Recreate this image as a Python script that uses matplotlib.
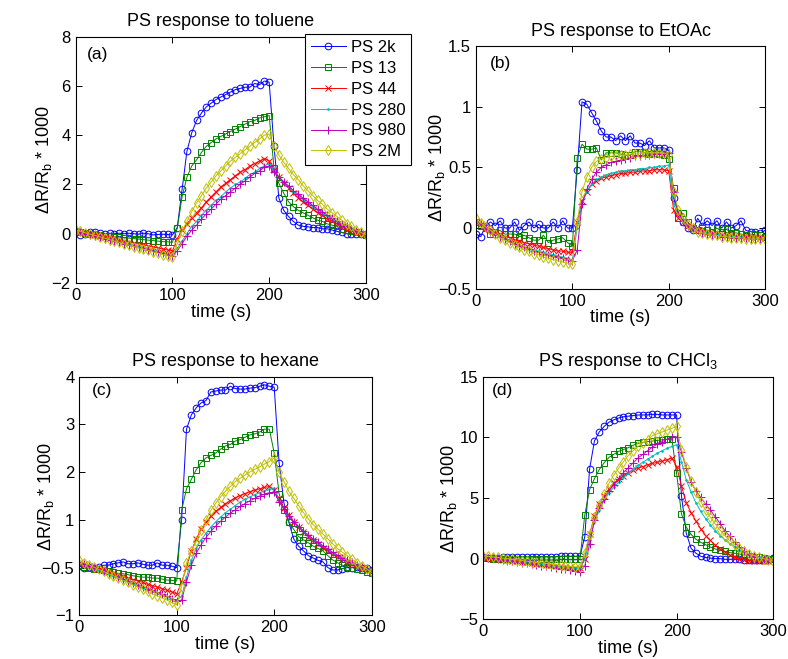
import matplotlib
matplotlib.use('Agg')
import matplotlib.pyplot as plt

plt.rcParams['font.family'] = ['Liberation Sans', 'DejaVu Sans']
plt.rcParams['mathtext.default'] = 'regular'

# ---------------- data ----------------
time_s = list(range(0, 301, 5))
labels = ['PS 2k', 'PS 13', 'PS 44', 'PS 280', 'PS 980', 'PS 2M']

# (a) toluene
tol_2k = [0.10, -0.05, 0.00, 0.05, 0.05, 0.02, 0.00, 0.02, 0.00, 0.02, 0.00, 0.02, 0.00, -0.02, 0.02, 0.00, -0.05, -0.03, -0.02, -0.03, -0.05,
          0.25, 1.80, 3.35, 4.10, 4.60, 4.90, 5.15, 5.30, 5.45, 5.55, 5.65, 5.75, 5.85, 5.90, 5.95, 5.95, 6.10, 6.05, 6.20, 6.15,
          3.55, 1.45, 0.95, 0.70, 0.50, 0.35, 0.30, 0.28, 0.25, 0.25, 0.20, 0.20, 0.15, 0.10, 0.05, 0.00, 0.00, -0.02, 0.00, 0.00]
tol_13 = [0.10, 0.06, 0.03, 0.00, -0.03, -0.05, -0.08, -0.10, -0.12, -0.14, -0.16, -0.18, -0.20, -0.22, -0.24, -0.26, -0.28, -0.30, -0.32, -0.33, -0.35,
          0.22, 1.50, 2.30, 2.75, 3.00, 3.30, 3.55, 3.70, 3.85, 3.95, 4.05, 4.15, 4.25, 4.35, 4.45, 4.55, 4.60, 4.70, 4.75, 4.80,
          2.65, 2.05, 1.65, 1.30, 1.10, 0.95, 0.85, 0.75, 0.65, 0.55, 0.50, 0.40, 0.35, 0.30, 0.20, 0.15, 0.10, 0.05, 0.00, -0.05]
tol_44 = [0.10, 0.06, 0.02, -0.02, -0.06, -0.10, -0.14, -0.18, -0.22, -0.26, -0.30, -0.34, -0.38, -0.42, -0.46, -0.50, -0.54, -0.58, -0.62, -0.66, -0.70,
          -0.20, 0.15, 0.40, 0.65, 0.85, 1.05, 1.30, 1.50, 1.70, 1.90, 2.05, 2.20, 2.35, 2.50, 2.60, 2.75, 2.85, 2.95, 3.05, 2.95,
          2.60, 2.30, 2.05, 1.85, 1.65, 1.45, 1.30, 1.15, 1.00, 0.85, 0.75, 0.60, 0.50, 0.40, 0.30, 0.20, 0.15, 0.05, 0.00, -0.05]
tol_280 = [0.10, 0.05, 0.00, -0.05, -0.10, -0.15, -0.19, -0.24, -0.29, -0.34, -0.38, -0.43, -0.48, -0.52, -0.57, -0.62, -0.67, -0.71, -0.76, -0.80, -0.85,
           -0.60, -0.30, 0.00, 0.30, 0.50, 0.75, 0.95, 1.15, 1.35, 1.50, 1.70, 1.85, 2.00, 2.10, 2.25, 2.40, 2.50, 2.65, 2.75, 2.85,
           2.55, 2.30, 2.10, 1.90, 1.70, 1.55, 1.40, 1.25, 1.10, 0.95, 0.85, 0.70, 0.60, 0.50, 0.40, 0.30, 0.20, 0.10, 0.05, 0.00]
tol_980 = [0.10, 0.05, 0.00, -0.05, -0.10, -0.15, -0.20, -0.25, -0.30, -0.35, -0.40, -0.45, -0.50, -0.55, -0.60, -0.65, -0.70, -0.75, -0.80, -0.85, -0.90,
           -0.70, -0.40, -0.10, 0.15, 0.35, 0.60, 0.80, 1.00, 1.20, 1.40, 1.55, 1.70, 1.85, 2.00, 2.15, 2.30, 2.45, 2.55, 2.70, 2.75,
           2.50, 2.30, 2.10, 1.95, 1.75, 1.60, 1.45, 1.30, 1.15, 1.00, 0.90, 0.75, 0.65, 0.50, 0.40, 0.30, 0.20, 0.10, 0.05, -0.05]
tol_2M = [0.15, 0.10, 0.04, -0.02, -0.07, -0.13, -0.18, -0.24, -0.30, -0.35, -0.41, -0.46, -0.52, -0.57, -0.63, -0.68, -0.74, -0.79, -0.85, -0.90, -0.95,
          -0.40, 0.10, 0.50, 0.90, 1.25, 1.55, 1.85, 2.10, 2.35, 2.55, 2.75, 2.95, 3.10, 3.25, 3.40, 3.55, 3.70, 3.85, 4.00, 4.05,
          3.55, 3.20, 2.90, 2.65, 2.40, 2.20, 1.95, 1.75, 1.55, 1.35, 1.20, 1.00, 0.85, 0.70, 0.55, 0.40, 0.30, 0.15, 0.05, -0.05]

# (b) EtOAc
eto_2k = [-0.05, -0.07, 0.02, 0.05, 0.02, 0.06, 0.00, 0.00, 0.05, -0.02, 0.02, 0.05, 0.00, 0.03, 0.00, 0.00, 0.05, 0.00, 0.06, 0.00, 0.00,
          0.48, 1.04, 1.02, 0.95, 0.88, 0.80, 0.75, 0.75, 0.72, 0.76, 0.72, 0.76, 0.70, 0.70, 0.68, 0.72, 0.66, 0.66, 0.66, 0.64,
          0.25, 0.12, 0.05, 0.00, -0.02, 0.08, 0.02, 0.06, 0.02, 0.06, 0.00, 0.05, 0.00, 0.02, 0.06, -0.02, -0.03, -0.03, -0.04, -0.02]
eto_13 = [0.05, 0.02, 0.00, -0.05, -0.03, -0.02, -0.05, -0.05, -0.05, -0.07, -0.06, -0.08, -0.10, -0.10, -0.06, -0.12, -0.10, -0.09, -0.08, -0.12, -0.15,
          0.58, 0.69, 0.65, 0.65, 0.66, 0.56, 0.62, 0.62, 0.62, 0.61, 0.60, 0.60, 0.63, 0.63, 0.62, 0.61, 0.62, 0.61, 0.60, 0.57,
          0.33, 0.08, 0.12, 0.05, 0.00, -0.02, 0.00, -0.02, -0.03, 0.00, -0.03, -0.01, -0.04, -0.04, -0.05, -0.06, -0.05, -0.06, -0.06, -0.07]
eto_44 = [0.06, 0.03, 0.00, -0.02, -0.04, -0.05, -0.07, -0.08, -0.10, -0.11, -0.12, -0.13, -0.14, -0.15, -0.16, -0.17, -0.18, -0.19, -0.19, -0.20, -0.20,
          0.05, 0.22, 0.30, 0.36, 0.39, 0.41, 0.42, 0.43, 0.44, 0.45, 0.45, 0.46, 0.46, 0.47, 0.47, 0.47, 0.48, 0.48, 0.48, 0.47,
          0.15, 0.08, 0.05, 0.02, 0.00, -0.02, -0.03, -0.04, -0.05, -0.05, -0.06, -0.06, -0.06, -0.07, -0.07, -0.07, -0.07, -0.07, -0.08, -0.08]
eto_280 = [0.06, 0.03, 0.00, -0.03, -0.05, -0.07, -0.09, -0.11, -0.13, -0.14, -0.16, -0.17, -0.18, -0.19, -0.20, -0.21, -0.22, -0.23, -0.24, -0.25, -0.26,
           0.00, 0.20, 0.30, 0.36, 0.40, 0.42, 0.44, 0.45, 0.46, 0.47, 0.47, 0.48, 0.48, 0.49, 0.49, 0.50, 0.50, 0.51, 0.51, 0.52,
           0.20, 0.10, 0.05, 0.02, 0.00, -0.02, -0.03, -0.04, -0.05, -0.05, -0.06, -0.06, -0.07, -0.07, -0.07, -0.08, -0.08, -0.08, -0.08, -0.08]
eto_980 = [0.06, 0.03, 0.00, -0.03, -0.05, -0.07, -0.09, -0.11, -0.13, -0.15, -0.16, -0.17, -0.19, -0.20, -0.21, -0.22, -0.23, -0.24, -0.25, -0.26, -0.27,
           -0.18, 0.20, 0.32, 0.40, 0.46, 0.50, 0.52, 0.54, 0.55, 0.56, 0.57, 0.58, 0.59, 0.59, 0.60, 0.60, 0.61, 0.61, 0.61, 0.62,
           0.30, 0.12, 0.06, 0.02, 0.00, -0.02, -0.04, -0.05, -0.06, -0.06, -0.07, -0.07, -0.08, -0.08, -0.08, -0.08, -0.09, -0.09, -0.09, -0.09]
eto_2M = [0.08, 0.04, 0.01, -0.02, -0.05, -0.08, -0.10, -0.12, -0.14, -0.16, -0.18, -0.19, -0.21, -0.22, -0.24, -0.25, -0.26, -0.27, -0.28, -0.29, -0.30,
          0.05, 0.30, 0.42, 0.50, 0.55, 0.57, 0.58, 0.59, 0.60, 0.60, 0.60, 0.61, 0.61, 0.61, 0.62, 0.62, 0.62, 0.62, 0.62, 0.60,
          0.30, 0.15, 0.08, 0.03, 0.00, -0.03, -0.04, -0.05, -0.06, -0.06, -0.07, -0.07, -0.08, -0.08, -0.08, -0.09, -0.09, -0.09, -0.09, -0.09]

# (c) hexane
hex_2k = [0.03, 0.00, 0.02, 0.00, 0.02, 0.05, 0.05, 0.08, 0.10, 0.12, 0.08, 0.08, 0.10, 0.07, 0.05, 0.05, 0.10, 0.05, 0.05, 0.03, 0.00,
          1.00, 2.90, 3.20, 3.35, 3.45, 3.50, 3.68, 3.70, 3.72, 3.72, 3.80, 3.75, 3.74, 3.74, 3.76, 3.77, 3.80, 3.83, 3.80, 3.78,
          2.20, 1.35, 0.95, 0.60, 0.45, 0.35, 0.25, 0.20, 0.15, 0.12, 0.00, -0.05, -0.05, -0.02, 0.00, 0.00, 0.02, 0.00, 0.00, -0.05]
hex_13 = [0.05, 0.02, 0.00, -0.02, -0.04, -0.06, -0.08, -0.10, -0.12, -0.13, -0.15, -0.17, -0.19, -0.20, -0.20, -0.22, -0.22, -0.24, -0.26, -0.27, -0.28,
          1.20, 1.65, 1.85, 2.05, 2.20, 2.30, 2.35, 2.40, 2.48, 2.55, 2.58, 2.65, 2.68, 2.73, 2.78, 2.80, 2.84, 2.90, 2.90, 2.40,
          1.55, 1.20, 0.96, 0.80, 0.65, 0.58, 0.52, 0.45, 0.40, 0.35, 0.25, 0.16, 0.10, 0.05, 0.02, 0.00, -0.03, -0.05, -0.09, -0.12]
hex_44 = [0.10, 0.07, 0.04, 0.01, -0.02, -0.05, -0.09, -0.12, -0.15, -0.18, -0.22, -0.25, -0.28, -0.31, -0.35, -0.38, -0.41, -0.44, -0.48, -0.51, -0.55,
          -0.30, 0.00, 0.35, 0.60, 0.80, 0.95, 1.08, 1.18, 1.26, 1.34, 1.40, 1.46, 1.51, 1.55, 1.59, 1.62, 1.65, 1.68, 1.70, 1.62,
          1.45, 1.25, 1.10, 0.95, 0.85, 0.75, 0.65, 0.57, 0.50, 0.42, 0.35, 0.28, 0.22, 0.17, 0.12, 0.07, 0.03, 0.00, -0.05, -0.08]
hex_280 = [0.10, 0.06, 0.02, -0.02, -0.06, -0.10, -0.14, -0.18, -0.22, -0.26, -0.30, -0.34, -0.38, -0.42, -0.46, -0.50, -0.54, -0.58, -0.62, -0.65, -0.68,
           -0.60, -0.20, 0.15, 0.40, 0.58, 0.72, 0.85, 0.96, 1.06, 1.15, 1.22, 1.30, 1.37, 1.43, 1.48, 1.53, 1.57, 1.61, 1.64, 1.66,
           1.40, 1.22, 1.08, 0.96, 0.86, 0.76, 0.67, 0.59, 0.52, 0.45, 0.38, 0.31, 0.25, 0.20, 0.15, 0.10, 0.05, 0.01, -0.03, -0.07]
hex_980 = [0.12, 0.08, 0.04, 0.00, -0.04, -0.08, -0.12, -0.16, -0.20, -0.24, -0.28, -0.32, -0.36, -0.40, -0.44, -0.48, -0.52, -0.56, -0.60, -0.65, -0.70,
           -0.68, -0.30, 0.05, 0.30, 0.48, 0.63, 0.76, 0.87, 0.97, 1.06, 1.14, 1.21, 1.28, 1.34, 1.40, 1.45, 1.50, 1.54, 1.57, 1.58,
           1.38, 1.22, 1.08, 0.96, 0.86, 0.77, 0.68, 0.60, 0.53, 0.46, 0.39, 0.32, 0.26, 0.21, 0.16, 0.11, 0.06, 0.02, -0.03, -0.07]
hex_2M = [0.15, 0.10, 0.06, 0.01, -0.04, -0.08, -0.13, -0.17, -0.22, -0.27, -0.31, -0.36, -0.41, -0.45, -0.50, -0.55, -0.59, -0.64, -0.68, -0.73, -0.78,
          -0.40, 0.10, 0.35, 0.55, 0.78, 1.00, 1.20, 1.35, 1.48, 1.60, 1.70, 1.80, 1.87, 1.94, 2.00, 2.06, 2.11, 2.17, 2.22, 2.30,
          2.00, 1.80, 1.60, 1.45, 1.30, 1.15, 1.02, 0.90, 0.80, 0.70, 0.60, 0.50, 0.40, 0.32, 0.25, 0.17, 0.10, 0.03, -0.03, -0.10]

# (d) CHCl3
chl_2k = [0.10, 0.05, 0.05, 0.05, 0.10, 0.10, 0.10, 0.10, 0.15, 0.15, 0.15, 0.10, 0.15, 0.15, 0.15, 0.15, 0.20, 0.20, 0.20, 0.20, 0.20,
          1.80, 7.40, 9.70, 10.45, 10.90, 11.25, 11.45, 11.60, 11.70, 11.75, 11.80, 11.85, 11.85, 11.85, 11.90, 11.90, 11.85, 11.85, 11.85, 11.85,
          5.20, 2.10, 0.85, 0.45, 0.20, 0.10, 0.05, 0.00, 0.00, -0.05, -0.05, -0.05, -0.05, -0.10, -0.10, -0.10, -0.10, -0.10, -0.05, 0.05]
chl_13 = [0.05, 0.05, 0.00, 0.00, 0.00, -0.05, 0.00, -0.05, -0.05, -0.05, -0.05, -0.05, -0.05, -0.05, -0.05, -0.05, -0.05, -0.05, -0.05, -0.05, -0.05,
          3.60, 5.70, 6.60, 7.35, 7.90, 8.35, 8.60, 8.85, 9.00, 9.15, 9.35, 9.50, 9.58, 9.65, 9.70, 9.75, 9.80, 9.84, 9.90, 7.05,
          3.70, 2.60, 2.00, 1.60, 1.35, 1.15, 0.95, 0.80, 0.70, 0.60, 0.50, 0.45, 0.38, 0.30, 0.25, 0.18, 0.10, 0.05, 0.00, -0.05]
chl_44 = [0.10, 0.05, 0.01, -0.04, -0.08, -0.13, -0.17, -0.22, -0.26, -0.31, -0.35, -0.40, -0.44, -0.49, -0.53, -0.58, -0.62, -0.67, -0.71, -0.76, -0.80,
          0.00, 2.00, 3.50, 4.50, 5.20, 5.75, 6.20, 6.55, 6.85, 7.10, 7.30, 7.45, 7.60, 7.75, 7.85, 7.95, 8.05, 8.15, 8.30, 7.60,
          6.00, 4.60, 3.80, 3.10, 2.45, 1.90, 1.50, 1.10, 0.80, 0.55, 0.30, 0.10, 0.00, -0.10, -0.15, -0.20, -0.20, -0.20, -0.15, -0.10]
chl_280 = [0.10, 0.05, 0.00, -0.05, -0.10, -0.15, -0.19, -0.24, -0.29, -0.34, -0.38, -0.43, -0.48, -0.52, -0.57, -0.62, -0.67, -0.71, -0.76, -0.80, -0.85,
           0.00, 1.50, 3.00, 4.00, 4.80, 5.40, 5.90, 6.30, 6.70, 7.05, 7.40, 7.70, 7.95, 8.20, 8.45, 8.70, 8.90, 9.10, 9.25, 9.40,
           8.00, 6.50, 5.50, 4.60, 3.90, 3.30, 2.75, 2.30, 1.90, 1.55, 1.25, 1.00, 0.75, 0.55, 0.40, 0.25, 0.15, 0.05, 0.00, -0.05]
chl_980 = [0.15, 0.09, 0.03, -0.03, -0.09, -0.15, -0.21, -0.27, -0.33, -0.39, -0.45, -0.51, -0.57, -0.63, -0.69, -0.75, -0.81, -0.87, -0.93, -1.00, -1.10,
           -0.60, 1.20, 3.20, 4.20, 4.90, 5.60, 6.10, 6.60, 7.10, 7.50, 7.90, 8.30, 8.60, 8.90, 9.20, 9.45, 9.65, 9.85, 10.00, 10.05,
           8.80, 7.50, 6.30, 5.60, 5.05, 4.50, 4.00, 3.45, 2.90, 2.30, 1.85, 1.35, 0.95, 0.60, 0.40, 0.25, 0.10, 0.00, -0.10, -0.10]
chl_2M = [0.25, 0.20, 0.15, 0.10, 0.05, 0.00, -0.05, -0.10, -0.15, -0.20, -0.25, -0.30, -0.35, -0.40, -0.45, -0.50, -0.55, -0.60, -0.63, -0.67, -0.70,
          0.50, 2.00, 3.40, 4.40, 5.30, 6.20, 6.90, 7.45, 8.00, 8.50, 8.90, 9.25, 9.55, 9.80, 10.15, 10.30, 10.45, 10.60, 10.75, 10.90,
          9.00, 7.60, 6.40, 5.50, 4.70, 4.00, 3.40, 2.85, 2.35, 1.90, 1.50, 1.15, 0.85, 0.60, 0.40, 0.25, 0.10, 0.00, -0.10, -0.20]

# tick values / labels
x_ticks = [0, 100, 200, 300]
x_ticklabels = ['0', '100', '200', '300']
a_yticks = [-2, 0, 2, 4, 6, 8]
a_yticklabels = ['\u22122', '0', '2', '4', '6', '8']
b_yticks = [-0.5, 0, 0.5, 1, 1.5]
b_yticklabels = ['\u22120.5', '0', '0.5', '1', '1.5']
c_yticks = [-1, 0, 1, 2, 3, 4]
c_yticklabels = ['\u22121', '\u22120.5', '1', '2', '3', '4']
d_yticks = [-5, 0, 5, 10, 15]
d_yticklabels = ['\u22125', '0', '5', '10', '15']

# ---------------- styling ----------------
colors = ['#0000ff', '#008000', '#ff0000', '#00bfbf', '#bf00bf', '#bfbf00']
markers = ['o', 's', 'x', '.', '+', 'd']
msizes = [4.8, 4.2, 4.2, 2.5, 5.2, 4.8]

panels = [
    dict(series=[tol_2k, tol_13, tol_44, tol_280, tol_980, tol_2M],
         pos=[0.0960, 0.5706, 0.3684, 0.3737], ylim=(-2, 8), yticks=a_yticks,
         yticklabels=a_yticklabels, title='PS response to toluene', tag='(a)', tagpos=(0.039, 0.926), ylx=-0.075),
    dict(series=[eto_2k, eto_13, eto_44, eto_280, eto_980, eto_2M],
         pos=[0.6041, 0.5619, 0.3668, 0.3683], ylim=(-0.5, 1.5), yticks=b_yticks,
         yticklabels=b_yticklabels, title='PS response to EtOAc', tag='(b)', tagpos=(0.048, 0.929), ylx=-0.102),
    dict(series=[hex_2k, hex_13, hex_44, hex_280, hex_980, hex_2M],
         pos=[0.1006, 0.0663, 0.3711, 0.3621], ylim=(-1, 4), yticks=c_yticks,
         yticklabels=c_yticklabels, title='PS response to hexane', tag='(c)', tagpos=(0.042, 0.944), ylx=-0.078),
    dict(series=[chl_2k, chl_13, chl_44, chl_280, chl_980, chl_2M],
         pos=[0.6133, 0.0602, 0.3680, 0.3681], ylim=(-5, 15), yticks=d_yticks,
         yticklabels=d_yticklabels, title='PS response to CHCl$_3$', tag='(d)', tagpos=(0.029, 0.945), ylx=-0.085),
]

fig = plt.figure(figsize=(7.88, 6.59), dpi=100)

axes = []
for p in panels:
    ax = fig.add_axes(p['pos'])
    for s, c, m, ms, lab in zip(p['series'], colors, markers, msizes, labels):
        ax.plot(time_s, s, color=c, marker=m, markersize=ms, linewidth=0.7,
                markerfacecolor=(c if m == '.' else 'none'), markeredgecolor=c,
                markeredgewidth=0.7, label=lab)
    ax.set_xlim(0, 300)
    ax.set_ylim(*p['ylim'])
    ax.set_xticks(x_ticks)
    ax.set_xticklabels(x_ticklabels)
    ax.set_yticks(p['yticks'])
    ax.set_yticklabels(p['yticklabels'])
    ax.tick_params(direction='in', top=True, right=True, length=4, width=0.7, labelsize=12, pad=3.5)
    for sp in ax.spines.values():
        sp.set_linewidth(0.8)
    ax.set_title(p['title'], fontsize=13, pad=7.5)
    ax.set_xlabel('time (s)', fontsize=13, labelpad=0.5)
    ax.set_ylabel('\u0394R/R$_b$ * 1000', fontsize=13)
    ax.yaxis.set_label_coords(p['ylx'], 0.5)
    ax.text(p['tagpos'][0], p['tagpos'][1], p['tag'], transform=ax.transAxes,
            fontsize=12.5, ha='left', va='center')
    axes.append(ax)

leg = axes[0].legend(loc='upper left', bbox_to_anchor=(305 / 788, 1 - 34.3 / 659),
                     bbox_transform=fig.transFigure, fontsize=12, frameon=True,
                     fancybox=False, edgecolor='black', framealpha=1,
                     borderpad=0.35, labelspacing=0.35, handlelength=2.1,
                     handletextpad=0.3, borderaxespad=0, numpoints=1)
leg.get_frame().set_linewidth(0.8)
leg.set_zorder(10)

fig.savefig('out.png', dpi=100)
